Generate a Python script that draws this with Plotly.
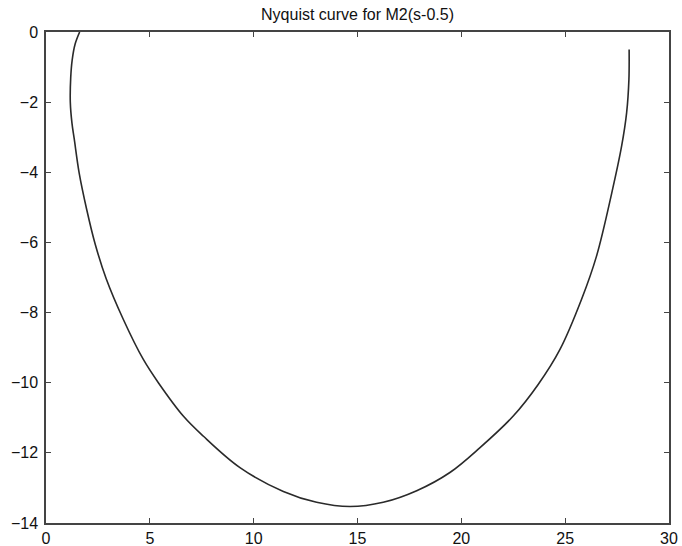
import plotly.graph_objects as go

re_part = [1.62, 1.40, 1.26, 1.19, 1.17, 1.25, 1.36, 1.60, 1.96, 2.36, 2.89, 3.72,
           4.68, 5.41, 6.61, 7.57, 9.34, 11.43, 13.03, 14.64, 16.24, 17.85, 19.45,
           20.90, 22.50, 23.70, 24.75, 25.79, 26.51, 27.24, 27.72, 27.96, 28.07, 28.08]
im_part = [0.0, -0.35, -0.8, -1.3, -2.0, -2.6, -3.05, -4.03, -5.06, -6.03, -7.02, -8.19,
           -9.33, -10.0, -10.95, -11.52, -12.42, -13.1, -13.41, -13.53, -13.41, -13.08, -12.56,
           -11.85, -10.95, -10.05, -9.05, -7.62, -6.39, -4.6, -3.25, -2.30, -1.35, -0.50]

x_ticks = [0, 5, 10, 15, 20, 25, 30]
y_ticks = [0, -2, -4, -6, -8, -10, -12, -14]
title_text = "Nyquist curve for M2(s-0.5)"

fig = go.Figure()
fig.add_trace(go.Scatter(
    x=re_part, y=im_part, mode="lines",
    line=dict(color="#2a2a2a", width=1.6, shape="spline", smoothing=1.0),
    showlegend=False, cliponaxis=True,
))

axis_common = dict(
    showline=True, linecolor="#444444", linewidth=1.5, mirror="ticks",
    ticks="inside", ticklen=5, tickwidth=1.2, tickcolor="#444444",
    showgrid=False, zeroline=False, automargin=False,
    tickfont=dict(family="Liberation Sans, Arial, sans-serif", size=16, color="#111111"),
)

fig.update_layout(
    width=682, height=546,
    margin=dict(l=46, r=13, t=32, b=23),
    paper_bgcolor="white", plot_bgcolor="white",
    title=dict(text=title_text, x=0.5, xref="paper", y=0.973, yref="container",
               xanchor="center", yanchor="middle",
               font=dict(family="Liberation Sans, Arial, sans-serif", size=16, color="#111111")),
    xaxis=dict(range=[0, 30], tickvals=x_ticks, ticktext=[str(v) for v in x_ticks],
               ticklabelstandoff=0, **axis_common),
    yaxis=dict(range=[-14, 0], tickvals=y_ticks, ticklabelstandoff=3, **axis_common),
)

fig.write_html("out.html", config={"displayModeBar": False},
               post_script="document.body.style.margin='0';document.body.style.overflow='hidden';")
